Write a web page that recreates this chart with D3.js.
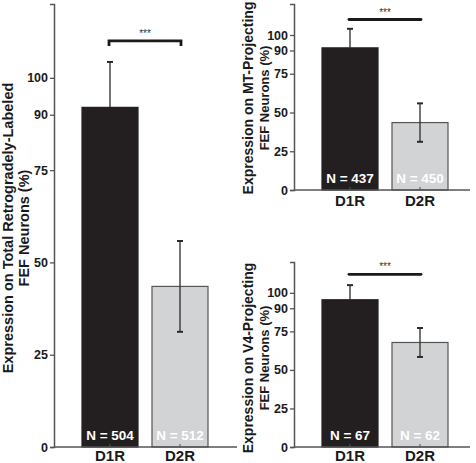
<!DOCTYPE html>
<html><head><meta charset="utf-8">
<script src="https://cdn.jsdelivr.net/npm/d3@7"></script>
<style>
html,body{margin:0;padding:0;background:#fff;}
svg{display:block;font-family:"Liberation Sans",Arial,Helvetica,sans-serif;font-weight:bold;}
</style></head>
<body>
<svg id="chart" width="476" height="463"></svg>
<script>
// ---- data ----
const categories = ["D1R", "D2R"];
const yTicks = [0, 25, 50, 75, 90, 100];
const panelTitles = [
  ["Expression on Total Retrogradely-Labeled", "FEF Neurons (%)"],
  ["Expression on MT-Projecting", "FEF Neurons (%)"],
  ["Expression on V4-Projecting", "FEF Neurons (%)"]
];
const totalMeans = [92, 43.5];
const totalErrors = [12.3, 12.3];
const totalN = ["N = 504", "N = 512"];
const mtMeans = [91.7, 43.5];
const mtErrors = [12.3, 12.4];
const mtN = ["N = 437", "N = 450"];
const v4Means = [95.5, 67.8];
const v4Errors = [9.5, 9.4];
const v4N = ["N = 67", "N = 62"];
const sigLabel = "***";
const sigLevels = [110, 110, 112];

// ---- layout ----
const panels = [
  {means: totalMeans, errs: totalErrors, n: totalN, title: panelTitles[0], sig: sigLevels[0],
   ax: 54, xEnd: 237, band: [75, 215], yr: [447, 4], labX: [8, 24], labFs: [14.5, 14.5], labY: 228, brTicks: true},
  {means: mtMeans, errs: mtErrors, n: mtN, title: panelTitles[1], sig: sigLevels[1],
   ax: 294, xEnd: 470, band: [315, 455], yr: [190, 4], labX: [248, 264], labFs: [14, 13], labY: 98, brTicks: false},
  {means: v4Means, errs: v4Errors, n: v4N, title: panelTitles[2], sig: sigLevels[2],
   ax: 294, xEnd: 470, band: [315, 455], yr: [447, 262], labX: [248, 264], labFs: [14, 13], labY: 358, brTicks: false}
];
const fills = ["#231f20", "#d1d3d4"];
const axisCol = "#555";

const svg = d3.select("#chart");

panels.forEach(p => {
  const g = svg.append("g");
  const x = d3.scaleBand().domain(categories).range(p.band).paddingInner(0.2).paddingOuter(0.1);
  const y = d3.scaleLinear().domain([0, 120]).range(p.yr);
  const y0 = y(0);

  // bars
  g.selectAll("rect.bar").data(categories).enter().append("rect")
    .attr("x", d => x(d)).attr("width", x.bandwidth())
    .attr("y", (d, i) => y(p.means[i]))
    .attr("height", (d, i) => y0 - y(p.means[i]))
    .attr("fill", (d, i) => fills[i])
    .attr("stroke", (d, i) => i === 0 ? "#231f20" : "#555")
    .attr("stroke-width", 1.2);

  // error bars
  categories.forEach((c, i) => {
    const cx = x(c) + x.bandwidth() / 2;
    const hi = y(p.means[i] + p.errs[i]), lo = y(p.means[i] - p.errs[i]);
    const col = "#2a2a2a";
    g.append("line").attr("x1", cx).attr("x2", cx).attr("y1", hi).attr("y2", i === 0 ? y(p.means[i]) : lo)
      .attr("stroke", col).attr("stroke-width", 1.3);
    g.append("line").attr("x1", cx - 3).attr("x2", cx + 3).attr("y1", hi).attr("y2", hi)
      .attr("stroke", col).attr("stroke-width", 2);
    if (i !== 0) {
      g.append("line").attr("x1", cx - 3).attr("x2", cx + 3).attr("y1", lo).attr("y2", lo)
        .attr("stroke", col).attr("stroke-width", 2);
    }
    // N labels
    g.append("text").attr("x", cx).attr("y", y0 - 7).attr("text-anchor", "middle")
      .attr("fill", "#fff").attr("font-size", 13.5).text(p.n[i]);
    // small inward x tick
    g.append("line").attr("x1", cx).attr("x2", cx).attr("y1", y0).attr("y2", y0 - 3)
      .attr("stroke", axisCol).attr("stroke-width", 1);
  });

  // x axis baseline
  g.append("line").attr("x1", p.ax).attr("x2", p.xEnd).attr("y1", y0).attr("y2", y0)
    .attr("stroke", axisCol).attr("stroke-width", 1.5);
  // category labels
  g.selectAll("text.cat").data(categories).enter().append("text")
    .attr("x", d => x(d) + x.bandwidth() / 2).attr("y", Math.min(y0 + 16, 461))
    .attr("text-anchor", "middle").attr("font-size", 15).attr("fill", "#1a1a1a").text(d => d);

  // y axis
  const yAxis = d3.axisLeft(y).tickValues(yTicks).tickSize(4).tickPadding(2).tickFormat(d3.format("d"));
  const ya = g.append("g").attr("transform", `translate(${p.ax},0)`).call(yAxis);
  ya.select(".domain").attr("stroke", axisCol).attr("stroke-width", 1.5);
  ya.selectAll(".tick line").attr("stroke", axisCol).attr("stroke-width", 1.3);
  ya.selectAll(".tick text").attr("font-size", 12.5).attr("font-family", "Liberation Sans, Arial, sans-serif")
    .attr("font-weight", "bold").attr("fill", "#1a1a1a");

  // y title
  p.title.forEach((t, k) => {
    g.append("text").attr("transform", `translate(${p.labX[k]},${p.labY}) rotate(-90)`)
      .attr("text-anchor", "middle").attr("dominant-baseline", "central")
      .attr("font-size", p.labFs[k]).attr("fill", "#1a1a1a").text(t);
  });

  // significance bracket
  const bx1 = x(categories[0]) + x.bandwidth() / 2 - 1;
  const bx2 = x(categories[1]) + x.bandwidth() / 2 + 1;
  const by = y(p.sig);
  if (p.brTicks) {
    g.append("path").attr("d", `M${bx1},${by + 5}V${by}H${bx2}V${by + 5}`)
      .attr("fill", "none").attr("stroke", "#1a1a1a").attr("stroke-width", 2.8);
  } else {
    g.append("line").attr("x1", bx1).attr("x2", bx2).attr("y1", by).attr("y2", by)
      .attr("stroke", "#1a1a1a").attr("stroke-width", 2.8).attr("stroke-linecap", "round");
  }
  g.append("text").attr("x", (bx1 + bx2) / 2).attr("y", by - 4).attr("text-anchor", "middle")
    .attr("font-size", 10).attr("font-weight", "normal").attr("fill", "#333").text(sigLabel);
});
</script>
</body></html>
